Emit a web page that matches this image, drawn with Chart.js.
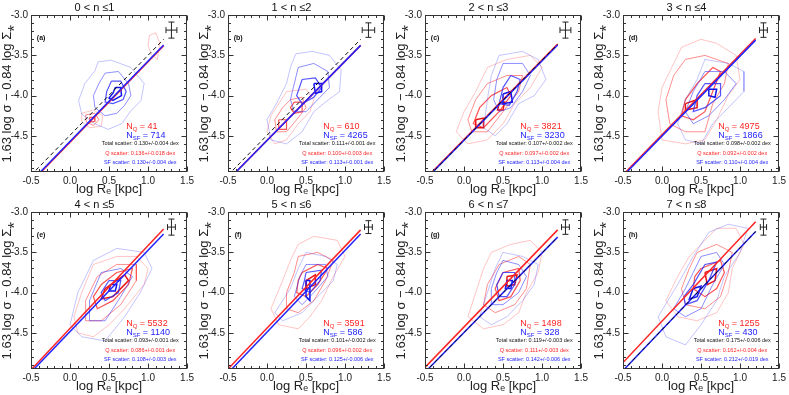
<!DOCTYPE html>
<html><head><meta charset="utf-8">
<script src="https://cdn.jsdelivr.net/npm/chart.js@4/dist/chart.umd.min.js"></script>
<style>
html,body{margin:0;padding:0;background:#fff;}
#wrap{position:relative;width:789px;height:395px;overflow:hidden;background:#fff}
.p{position:absolute;width:197px;height:197px}
</style></head><body><div id="wrap"></div>
<script>
const FONT = '"Liberation Sans", Arial, sans-serif';
const panelTitles = ['0 < n \u22641','1 < n \u22642','2 < n \u22643','3 < n \u22644','4 < n \u22645','5 < n \u22646','6 < n \u22647','7 < n \u22648'];
const panelLetters = ['(a)','(b)','(c)','(d)','(e)','(f)','(g)','(h)'];
const nQ  = [41, 610, 3821, 4975, 5532, 3591, 1498, 1255];
const nSF = [714, 4265, 3230, 1866, 1140, 586, 328, 430];
const totalScatter = ['0.130+/-0.004','0.111+/-0.001','0.107+/-0.002','0.098+/-0.002','0.093+/-0.001','0.101+/-0.002','0.119+/-0.003','0.175+/-0.006'];
const qScatter     = ['0.136+/-0.018','0.100+/-0.003','0.097+/-0.002','0.092+/-0.002','0.086+/-0.001','0.096+/-0.002','0.111+/-0.003','0.162+/-0.004'];
const sfScatter    = ['0.130+/-0.004','0.113+/-0.001','0.113+/-0.004','0.110+/-0.004','0.108+/-0.003','0.125+/-0.006','0.142+/-0.006','0.212+/-0.019'];
// fit lines: y at x = fitX[0] and fitX[1]
const fitX = [-0.5, 1.2];
const fitQ   = [[-5.08,-3.38],[-5.05,-3.375],[-5.04,-3.36],[-4.985,-3.29],[-4.96,-3.21],[-4.95,-3.22],[-4.93,-3.22],[-4.87,-3.12]];
const fitSF  = [[-5.07,-3.37],[-5.05,-3.375],[-5.05,-3.37],[-5.0,-3.31],[-4.99,-3.27],[-5.0,-3.27],[-4.99,-3.31],[-4.97,-3.24]];
const fitAll = [[-4.99,-3.30],[-4.99,-3.30],[-5.05,-3.36],null,null,null,[-4.99,-3.31],[-4.97,-3.24]];
// typical error bars (half sizes, data units)
const errX = [0.07,0.08,0.07,0.05,0.05,0.05,0.05,0.04];
const errY = [0.10,0.09,0.10,0.09,0.10,0.08,0.09,0.10];
// contours: [level, [x,y, x,y, ...]]
const contoursQ = [
 [[0,[0.15,-4.22,0.3,-4.18,0.42,-4.25,0.4,-4.38,0.25,-4.4,0.15,-4.32]],
  [0,[1.02,-3.25,1.1,-3.22,1.15,-3.35,1.12,-3.55,1.05,-3.5,1.0,-3.38]],
  [1,[0.2,-4.24,0.32,-4.22,0.37,-4.3,0.3,-4.37,0.21,-4.33]],
  [2,[0.25,-4.27,0.31,-4.27,0.32,-4.32,0.26,-4.33]]],
 [[0,[0.25,-3.95,0.5,-3.92,0.6,-4.05,0.55,-4.2,0.4,-4.35,0.25,-4.55,0.1,-4.6,0.0,-4.45,0.05,-4.25,0.15,-4.1]],
  [1,[0.3,-4.05,0.45,-4.02,0.5,-4.15,0.38,-4.3,0.25,-4.45,0.12,-4.45,0.1,-4.3,0.2,-4.15]],
  [2,[0.35,-4.08,0.45,-4.08,0.45,-4.2,0.35,-4.22,0.3,-4.15]],
  [2,[0.15,-4.3,0.25,-4.3,0.25,-4.42,0.15,-4.42]]],
 [[0,[0.3,-3.65,0.55,-3.55,0.85,-3.5,1.0,-3.65,0.85,-3.9,0.65,-4.1,0.5,-4.35,0.3,-4.55,0.05,-4.6,-0.1,-4.45,0.0,-4.2,0.15,-3.95]],
  [1,[0.3,-3.85,0.55,-3.75,0.75,-3.75,0.7,-3.95,0.5,-4.2,0.3,-4.45,0.1,-4.45,0.05,-4.3,0.15,-4.05]],
  [2,[0.35,-4.0,0.55,-3.9,0.6,-4.0,0.45,-4.2,0.25,-4.4,0.12,-4.35,0.2,-4.15]],
  [3,[0.15,-4.3,0.25,-4.28,0.25,-4.4,0.15,-4.4]],
  [3,[0.45,-4.1,0.52,-4.08,0.5,-4.18,0.43,-4.18]]],
 [[0,[0.25,-3.4,0.5,-3.3,0.7,-3.35,0.95,-3.5,1.0,-3.8,0.85,-4.0,0.7,-4.3,0.55,-4.55,0.3,-4.6,0.0,-4.55,-0.05,-4.2,0.0,-3.9,0.15,-3.6]],
  [1,[0.3,-3.55,0.55,-3.5,0.85,-3.6,0.8,-3.85,0.65,-4.1,0.55,-4.45,0.3,-4.45,0.1,-4.35,0.05,-4.05,0.15,-3.75]],
  [2,[0.45,-3.85,0.65,-3.65,0.75,-3.7,0.65,-3.95,0.55,-4.2,0.4,-4.3,0.25,-4.25,0.3,-4.05]],
  [3,[0.3,-4.1,0.45,-4.05,0.45,-4.15,0.3,-4.18]]],
 [[0,[0.3,-3.65,0.6,-3.55,0.85,-3.55,1.0,-3.7,0.95,-3.9,0.7,-4.2,0.5,-4.4,0.3,-4.55,0.1,-4.5,0.05,-4.3,0.15,-4.0]],
  [1,[0.35,-3.8,0.6,-3.65,0.85,-3.65,0.85,-3.85,0.65,-4.15,0.4,-4.35,0.2,-4.35,0.2,-4.1]],
  [2,[0.4,-3.9,0.6,-3.75,0.8,-3.7,0.75,-3.9,0.55,-4.1,0.35,-4.2,0.3,-4.05]],
  [3,[0.45,-3.95,0.7,-3.78,0.75,-3.85,0.55,-4.05,0.4,-4.08]]],
 [[0,[0.4,-3.4,0.6,-3.3,0.9,-3.35,1.0,-3.55,0.85,-3.8,0.7,-4.1,0.55,-4.3,0.4,-4.45,0.15,-4.4,0.05,-4.2,0.2,-3.85,0.3,-3.6]],
  [1,[0.4,-3.55,0.65,-3.5,0.85,-3.6,0.75,-3.85,0.6,-4.1,0.4,-4.25,0.25,-4.2,0.25,-4.0,0.35,-3.75]],
  [2,[0.45,-3.75,0.65,-3.65,0.78,-3.7,0.65,-3.9,0.5,-4.05,0.38,-4.0,0.4,-3.85]],
  [3,[0.5,-3.85,0.62,-3.78,0.62,-3.9,0.5,-3.95]]],
 [[0,[0.35,-3.5,0.6,-3.4,0.85,-3.35,1.0,-3.5,0.95,-3.75,0.8,-4.0,0.7,-4.25,0.5,-4.4,0.25,-4.45,0.05,-4.3,0.15,-4.0,0.25,-3.7]],
  [1,[0.45,-3.65,0.7,-3.55,0.85,-3.65,0.8,-3.95,0.65,-4.15,0.4,-4.25,0.25,-4.15,0.3,-3.9]],
  [2,[0.5,-3.75,0.7,-3.7,0.72,-3.85,0.6,-4.05,0.45,-4.1,0.4,-3.95]],
  [3,[0.55,-3.8,0.68,-3.78,0.65,-3.9,0.55,-3.92]]],
 [[0,[0.5,-3.4,0.7,-3.2,0.95,-3.2,1.05,-3.4,0.9,-3.7,0.85,-4.0,0.7,-4.25,0.45,-4.35,0.2,-4.3,0.05,-4.1,0.2,-3.8,0.35,-3.55]],
  [1,[0.45,-3.5,0.7,-3.4,0.9,-3.5,0.85,-3.75,0.75,-4.05,0.55,-4.2,0.3,-4.15,0.25,-3.95,0.35,-3.7]],
  [2,[0.5,-3.7,0.75,-3.6,0.8,-3.75,0.7,-3.95,0.55,-4.05,0.4,-3.95,0.42,-3.8]],
  [3,[0.55,-3.75,0.7,-3.7,0.68,-3.85,0.58,-3.9]]]
];
const contoursSF = [
 [[0,[0.36,-3.58,0.53,-3.56,0.78,-3.65,0.95,-3.85,0.91,-4.06,0.78,-4.19,0.66,-4.35,0.49,-4.42,0.32,-4.35,0.15,-4.23,0.11,-4.06,0.19,-3.85,0.32,-3.69]],
  [1,[0.45,-3.72,0.62,-3.7,0.75,-3.85,0.78,-4.0,0.7,-4.12,0.6,-4.22,0.45,-4.25,0.32,-4.15,0.3,-4.0,0.37,-3.85]],
  [2,[0.53,-3.82,0.65,-3.82,0.72,-3.95,0.68,-4.05,0.55,-4.1,0.45,-4.08,0.47,-3.95]],
  [3,[0.58,-3.9,0.65,-3.9,0.66,-4.0,0.55,-4.06,0.5,-4.03,0.55,-3.97]]],
 [[0,[0.37,-3.48,0.58,-3.45,0.8,-3.5,0.95,-3.68,0.93,-3.95,0.75,-4.08,0.6,-4.2,0.45,-4.45,0.25,-4.6,0.05,-4.55,0.0,-4.3,0.12,-4.1,0.25,-3.85,0.3,-3.65]],
  [1,[0.4,-3.65,0.6,-3.6,0.78,-3.7,0.8,-3.9,0.65,-4.05,0.5,-4.2,0.35,-4.2,0.3,-4.05,0.35,-3.85]],
  [2,[0.45,-3.8,0.62,-3.78,0.7,-3.9,0.6,-4.02,0.45,-4.1,0.38,-4.0]],
  [3,[0.6,-3.85,0.7,-3.85,0.7,-3.95,0.62,-3.97]]],
 [[0,[0.45,-3.5,0.75,-3.45,0.95,-3.55,1.05,-3.8,0.9,-4.0,0.7,-4.1,0.55,-4.35,0.4,-4.5,0.25,-4.4,0.3,-4.05,0.35,-3.75]],
  [1,[0.5,-3.6,0.75,-3.6,0.85,-3.75,0.75,-3.95,0.6,-4.15,0.45,-4.2,0.38,-4.05,0.42,-3.8]],
  [2,[0.6,-3.75,0.72,-3.8,0.68,-3.95,0.58,-4.12,0.45,-4.1,0.5,-3.9]],
  [3,[0.5,-3.98,0.6,-3.95,0.62,-4.08,0.5,-4.1]]],
 [[0,[0.55,-3.55,0.85,-3.6,1.05,-3.7,1.05,-3.95,0.85,-4.15,0.65,-4.35,0.5,-4.6,0.3,-4.55,0.2,-4.35,0.3,-4.05,0.45,-3.8]],
  [1,[0.55,-3.7,0.8,-3.7,0.95,-3.85,0.8,-4.05,0.6,-4.25,0.4,-4.35,0.3,-4.2,0.4,-3.95]],
  [2,[0.55,-3.85,0.75,-3.85,0.75,-4.0,0.55,-4.15,0.4,-4.2,0.45,-4.0]],
  [3,[0.6,-3.92,0.7,-3.92,0.68,-4.02,0.6,-4.0]]],
 [[0,[0.3,-3.6,0.6,-3.45,0.95,-3.5,1.05,-3.7,0.9,-4.0,0.7,-4.3,0.45,-4.6,0.15,-4.55,0.0,-4.4,0.1,-4.0]],
  [1,[0.4,-3.75,0.65,-3.7,0.8,-3.8,0.65,-4.05,0.45,-4.35,0.25,-4.35,0.25,-4.1]],
  [2,[0.5,-3.85,0.65,-3.85,0.62,-4.0,0.45,-4.1,0.4,-4.0]],
  [3,[0.52,-3.9,0.6,-3.9,0.58,-3.98,0.5,-3.98]]],
 [[0,[0.5,-3.5,0.75,-3.55,0.9,-3.65,0.85,-3.85,0.65,-4.05,0.45,-4.25,0.2,-4.35,0.1,-4.25,0.3,-3.95,0.4,-3.7]],
  [1,[0.5,-3.65,0.75,-3.65,0.78,-3.8,0.6,-4.0,0.45,-4.15,0.35,-4.05,0.42,-3.8]],
  [2,[0.5,-3.75,0.7,-3.72,0.68,-3.85,0.55,-4.0,0.45,-3.95,0.48,-3.85]],
  [3,[0.5,-3.85,0.55,-3.85,0.55,-4.1,0.5,-4.05]]],
 [[0,[0.5,-3.5,0.75,-3.55,0.95,-3.65,0.9,-3.9,0.75,-4.1,0.55,-4.3,0.35,-4.4,0.2,-4.3,0.3,-4.0,0.4,-3.7]],
  [1,[0.5,-3.6,0.7,-3.65,0.8,-3.8,0.7,-4.0,0.5,-4.15,0.35,-4.15,0.35,-3.95,0.42,-3.75]],
  [2,[0.5,-3.75,0.65,-3.75,0.65,-3.9,0.55,-4.05,0.45,-4.05,0.42,-3.9]],
  [3,[0.55,-3.85,0.62,-3.85,0.6,-3.95,0.53,-3.95]]],
 [[0,[0.6,-3.25,0.85,-3.15,1.1,-3.2,1.0,-3.5,0.8,-3.8,0.7,-4.1,0.5,-4.4,0.3,-4.65,0.05,-4.55,-0.05,-4.3,0.2,-3.9,0.4,-3.55]],
  [1,[0.5,-3.55,0.7,-3.5,0.8,-3.65,0.65,-3.9,0.5,-4.2,0.3,-4.3,0.15,-4.2,0.3,-3.95,0.4,-3.75]],
  [2,[0.55,-3.65,0.7,-3.62,0.6,-3.85,0.45,-4.1,0.3,-4.15,0.28,-4.05,0.4,-3.9]],
  [3,[0.4,-3.95,0.5,-3.92,0.45,-4.05,0.35,-4.08]]]
];

const RED = 'rgb(255,35,35)', BLUE = 'rgb(35,35,255)';
const redLv  = ['rgba(255,60,60,0.3)','rgba(255,50,50,0.55)','rgba(255,40,40,0.8)','rgba(235,20,20,1)'];
const blueLv = ['rgba(60,60,255,0.3)','rgba(50,50,255,0.55)','rgba(40,40,255,0.8)','rgba(20,20,235,1)'];
const lvWidth = [1,1,1.2,1.5];

function poly(flat){ const pts=[]; for(let k=0;k<flat.length;k+=2) pts.push({x:flat[k],y:flat[k+1]}); pts.push({x:flat[0],y:flat[1]}); return pts; }

const framePlugin = {
  id:'frame',
  afterDraw(chart){
    const i = chart.options.plugins.frame.idx;
    const {ctx, chartArea:a, scales:{x,y}} = chart;
    ctx.save();
    ctx.strokeStyle='#333'; ctx.lineWidth=1;
    const L=Math.round(a.left)+0.5, T=Math.round(a.top)+0.5, R=Math.round(a.right)-0.5, B=Math.round(a.bottom)-0.5;
    ctx.strokeRect(L,T,R-L,B-T);
    ctx.beginPath();
    for(let k=-5;k<=15;k++){ const px=Math.round(x.getPixelForValue(k/10))+0.5; const len=(k%5===0)?5:2.5;
      ctx.moveTo(px,B); ctx.lineTo(px,B-len); ctx.moveTo(px,T); ctx.lineTo(px,T+len); }
    for(let k=-49;k<=-30;k++){ const py=Math.round(y.getPixelForValue(k/10))+0.5; const len=(k%5===0)?5:2.5;
      ctx.moveTo(L,py); ctx.lineTo(L+len,py); ctx.moveTo(R,py); ctx.lineTo(R-len,py); }
    ctx.stroke();
    // error bar
    const cx=a.left+0.9*a.width, cy=a.top+0.095*a.height;
    const hx=Math.abs(x.getPixelForValue(errX[i])-x.getPixelForValue(0));
    const hy=Math.abs(y.getPixelForValue(-3-errY[i])-y.getPixelForValue(-3));
    ctx.strokeStyle='#222'; ctx.beginPath();
    ctx.moveTo(cx-hx,cy); ctx.lineTo(cx+hx,cy);
    ctx.moveTo(cx-hx,cy-3); ctx.lineTo(cx-hx,cy+3);
    ctx.moveTo(cx+hx,cy-3); ctx.lineTo(cx+hx,cy+3);
    ctx.moveTo(cx,cy-hy); ctx.lineTo(cx,cy+hy);
    ctx.moveTo(cx-3,cy-hy); ctx.lineTo(cx+3,cy-hy);
    ctx.moveTo(cx-3,cy+hy); ctx.lineTo(cx+3,cy+hy);
    ctx.stroke();
    // letter
    ctx.fillStyle='#111'; ctx.font='bold 7px '+FONT; ctx.textAlign='center'; ctx.textBaseline='middle';
    ctx.fillText(panelLetters[i], a.left+0.065*a.width, a.top+0.145*a.height);
    // N labels
    function drawN(px,py,sub,val,color){
      ctx.fillStyle=color; ctx.textAlign='left'; ctx.textBaseline='middle';
      ctx.font='9px '+FONT; ctx.fillText('N',px,py); let w=ctx.measureText('N').width;
      ctx.font='6px '+FONT; ctx.fillText(sub,px+w,py+3); w+=ctx.measureText(sub).width;
      ctx.font='9px '+FONT; ctx.fillText(' = '+val,px+w,py);
    }
    drawN(a.left+0.61*a.width, a.top+0.71*a.height, 'Q', nQ[i], RED);
    drawN(a.left+0.61*a.width, a.top+0.765*a.height, 'SF', nSF[i], BLUE);
    ctx.textAlign='center'; ctx.font='5.5px '+FONT;
    const tx=a.left+0.70*a.width;
    ctx.fillStyle='#111'; ctx.fillText('Total scatter: '+totalScatter[i]+' dex', tx, a.top+0.82*a.height);
    ctx.fillStyle=RED; ctx.fillText('Q scatter: '+qScatter[i]+' dex', tx, a.top+0.88*a.height);
    ctx.fillStyle=BLUE; ctx.fillText('SF scatter: '+sfScatter[i]+' dex', tx, a.top+0.94*a.height);
    ctx.restore();
  }
};

const wrap=document.getElementById('wrap');
const colLeft=[0,197,394,592];
for(let i=0;i<8;i++){
  const d=document.createElement('div'); d.className='p';
  d.style.left=colLeft[i%4]+'px'; d.style.top=(Math.floor(i/4)*197)+'px';
  const c=document.createElement('canvas'); c.width=197; c.height=197; d.appendChild(c); wrap.appendChild(d);
  const ds=[];
  if(fitAll[i]) ds.push({data:[{x:fitX[0],y:fitAll[i][0]},{x:fitX[1],y:fitAll[i][1]}],showLine:true,borderColor:'#111',borderWidth:1,borderDash:[4,3],pointRadius:0,clip:0});
  ds.push({data:[{x:fitX[0],y:fitSF[i][0]},{x:fitX[1],y:fitSF[i][1]}],showLine:true,borderColor:BLUE,borderWidth:1.5,pointRadius:0,clip:0});
  ds.push({data:[{x:fitX[0],y:fitQ[i][0]},{x:fitX[1],y:fitQ[i][1]}],showLine:true,borderColor:RED,borderWidth:1.5,pointRadius:0,clip:0});
  contoursSF[i].slice().reverse().forEach(([lv,pts])=>ds.push({data:poly(pts),showLine:true,borderColor:blueLv[lv],borderWidth:lvWidth[lv],pointRadius:0,tension:0,clip:0}));
  contoursQ[i].slice().reverse().forEach(([lv,pts])=>ds.push({data:poly(pts),showLine:true,borderColor:redLv[lv],borderWidth:lvWidth[lv],pointRadius:0,tension:0,clip:0}));
  new Chart(c.getContext('2d'),{
    type:'scatter',
    data:{datasets:ds},
    options:{
      responsive:false, animation:false, devicePixelRatio:1,
      layout:{padding:{left:0,right:8,top:0,bottom:0}},
      plugins:{legend:{display:false},tooltip:{enabled:false},
        title:{display:true,text:panelTitles[i],color:'#111',font:{family:FONT,size:11,weight:'normal',lineHeight:1.2},padding:{top:1,bottom:1}},
        frame:{idx:i}},
      scales:{
        x:{type:'linear',min:-0.5,max:1.5,afterFit(s){s.height=25;},
           grid:{display:false,drawTicks:false},border:{display:false},
           ticks:{stepSize:0.5,includeBounds:false,autoSkip:false,maxRotation:0,padding:3,color:'#222',font:{family:FONT,size:10},callback:v=>v.toFixed(1)},
           title:{display:true,text:'log R\u2091 [kpc]',color:'#222',font:{family:FONT,size:13,lineHeight:1.2},padding:0}},
        y:{type:'linear',min:-4.95,max:-3.0,afterFit(s){s.width=31;},
           grid:{display:false,drawTicks:false},border:{display:false},
           ticks:{stepSize:0.5,includeBounds:false,autoSkip:false,padding:3,color:'#222',font:{family:FONT,size:10},callback:v=>v.toFixed(1)},
           title:{display:true,text:'1.63 log \u03c3 \u2212 0.84 log \u03a3\u204e',color:'#222',font:{family:FONT,size:13,lineHeight:1.2},padding:0}}
      }
    },
    plugins:[framePlugin]
  });
}
</script>
</body></html>
